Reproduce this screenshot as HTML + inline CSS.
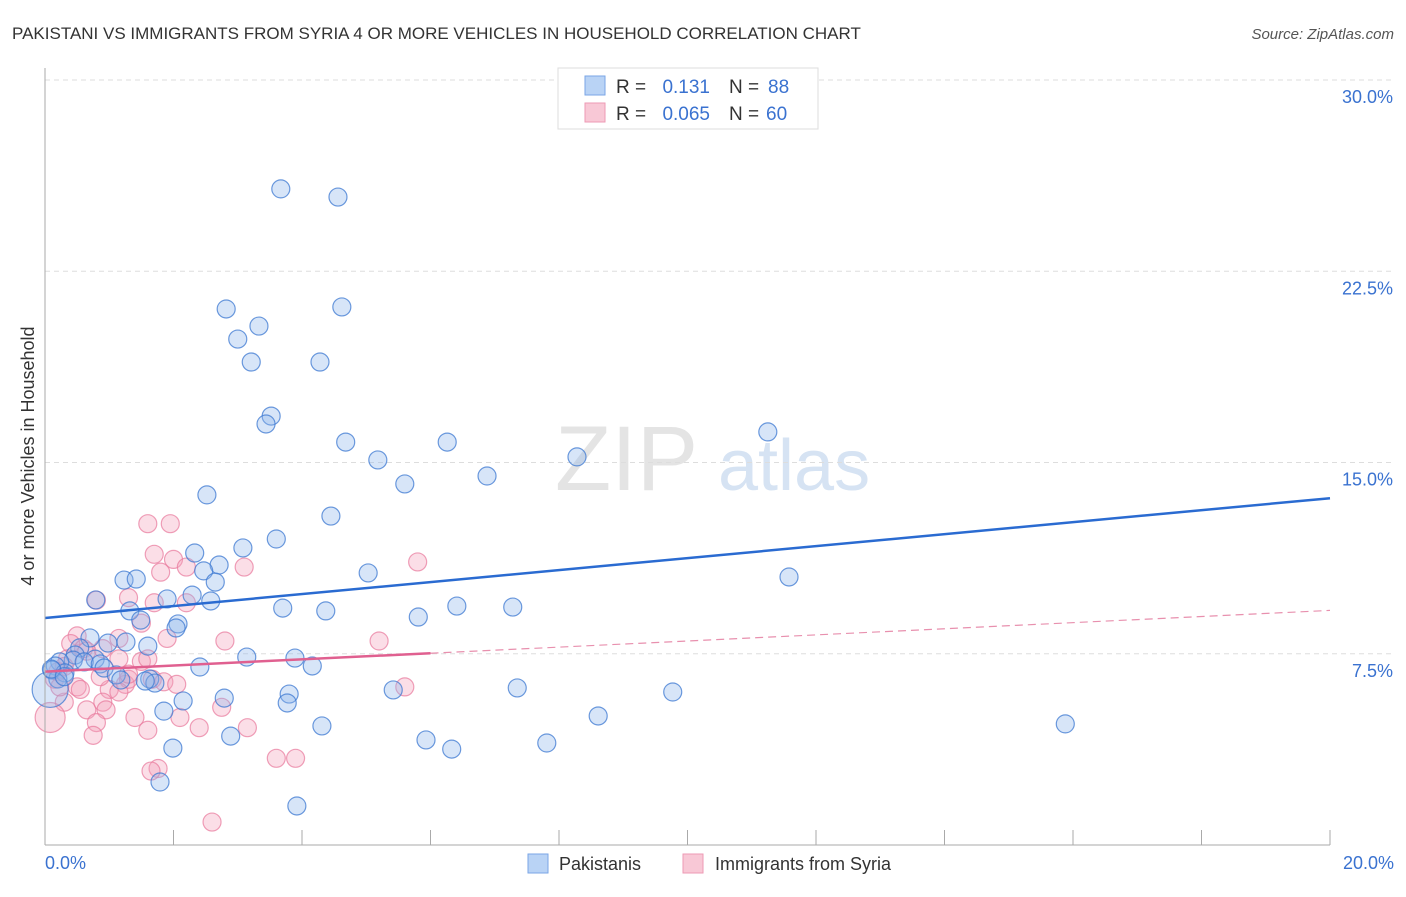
<!DOCTYPE html>
<html><head><meta charset="utf-8"><style>
body{margin:0;background:#fff;font-family:"Liberation Sans",sans-serif;}
svg text{font-family:"Liberation Sans",sans-serif;}
</style></head><body>
<svg id="c" width="1406" height="892" xmlns="http://www.w3.org/2000/svg">
<text x="12" y="39" font-size="17" fill="#333">PAKISTANI VS IMMIGRANTS FROM SYRIA 4 OR MORE VEHICLES IN HOUSEHOLD CORRELATION CHART</text>
<text x="1394" y="39" font-size="15" fill="#555" font-style="italic" text-anchor="end">Source: ZipAtlas.com</text>
<text x="555" y="490" font-size="92" fill="#e4e4e4" font-family="Liberation Serif">ZIP</text>
<text x="718" y="490" font-size="72" fill="#d6e3f3">atlas</text>
<text transform="translate(34,456) rotate(-90)" font-size="18" fill="#333" text-anchor="middle">4 or more Vehicles in Household</text>
<g id="grid"></g><g id="marks"></g><g id="lines"></g>
<line x1="45" y1="68" x2="45" y2="845" stroke="#aaa"/>
<line x1="45" y1="845" x2="1330" y2="845" stroke="#aaa"/>
<text x="45" y="869" font-size="18" fill="#3a72d0">0.0%</text>
<text x="1394" y="869" font-size="18" fill="#3a72d0" text-anchor="end">20.0%</text>
<g>
<rect x="558" y="68" width="260" height="61" fill="#fff" stroke="#ddd"/>
<rect x="585" y="76" width="20" height="19" fill="#b9d3f5" stroke="#7aa6e6"/>
<rect x="585" y="103" width="20" height="19" fill="#f8c8d6" stroke="#ee9ab4"/>
<text x="616" y="93" font-size="19" fill="#333">R = </text><text x="710" y="93" font-size="19" fill="#3a72d0" text-anchor="end">0.131</text>
<text x="729" y="93" font-size="19" fill="#333">N = </text><text x="768" y="93" font-size="19" fill="#3a72d0">88</text>
<text x="616" y="120" font-size="19" fill="#333">R = </text><text x="710" y="120" font-size="19" fill="#3a72d0" text-anchor="end">0.065</text>
<text x="729" y="120" font-size="19" fill="#333">N = </text><text x="766" y="120" font-size="19" fill="#3a72d0">60</text>
</g>
<rect x="528" y="854" width="20" height="19" fill="#b9d3f5" stroke="#7aa6e6"/>
<text x="559" y="870" font-size="18" fill="#333">Pakistanis</text>
<rect x="683" y="854" width="20" height="19" fill="#f8c8d6" stroke="#ee9ab4"/>
<text x="715" y="870" font-size="18" fill="#333">Immigrants from Syria</text>
</svg>
<script>
const yTicks=[7.5,15,22.5,30];
const yTickLabels=["7.5%","15.0%","22.5%","30.0%"];
const xTicks=[0,2,4,6,8,10,12,14,16,18,20];
const bluePts=[[3.67,25.73],[4.56,25.41],[2.82,21.02],[4.62,21.1],[3.33,20.35],[3.0,19.84],[3.21,18.94],[4.28,18.94],[3.52,16.82],[3.44,16.51],[4.68,15.8],[6.26,15.8],[5.18,15.1],[5.6,14.16],[6.88,14.47],[8.28,15.22],[11.25,16.2],[2.52,13.73],[4.45,12.9],[3.6,12.0],[3.08,11.65],[2.33,11.45],[2.71,10.98],[2.47,10.75],[2.65,10.31],[1.23,10.39],[1.42,10.43],[5.03,10.67],[11.58,10.51],[0.79,9.61],[2.29,9.8],[2.58,9.57],[1.9,9.65],[1.32,9.18],[1.49,8.82],[2.07,8.67],[2.04,8.51],[3.7,9.29],[4.37,9.18],[6.41,9.37],[7.28,9.33],[5.81,8.94],[0.7,8.12],[0.98,7.92],[1.26,7.96],[1.6,7.8],[0.54,7.73],[0.47,7.45],[0.78,7.29],[0.44,7.25],[0.61,7.18],[0.86,7.1],[3.14,7.37],[3.89,7.33],[4.16,7.02],[2.41,6.98],[0.92,6.94],[0.23,7.18],[0.16,7.02],[0.11,6.86],[0.31,6.75],[0.2,6.51],[1.11,6.67],[1.18,6.47],[1.63,6.51],[1.71,6.35],[1.56,6.43],[2.79,5.76],[3.8,5.92],[3.77,5.57],[5.42,6.08],[7.35,6.16],[9.77,6.0],[1.85,5.25],[2.15,5.65],[8.61,5.06],[4.31,4.67],[15.88,4.75],[2.89,4.27],[5.93,4.12],[6.33,3.76],[7.81,4.0],[1.99,3.8],[1.79,2.47],[3.92,1.53],[0.08,6.1],[0.1,6.9],[0.3,6.6]];
const pinkPts=[[0.8,9.6],[1.6,12.6],[1.95,12.6],[1.7,11.4],[2.0,11.2],[2.2,10.9],[1.8,10.7],[3.1,10.9],[5.8,11.1],[1.3,9.7],[1.7,9.5],[1.5,8.7],[2.2,9.5],[0.5,8.2],[0.4,7.9],[0.6,7.7],[0.65,7.6],[0.9,7.7],[1.15,8.1],[2.8,8.0],[5.2,8.0],[1.5,7.2],[0.35,7.3],[0.3,7.0],[0.2,6.8],[0.15,6.5],[0.5,6.2],[0.55,6.1],[1.0,6.1],[1.25,6.3],[1.3,6.5],[1.15,6.0],[1.3,6.7],[1.67,6.5],[1.85,6.4],[2.05,6.3],[0.3,5.6],[0.65,5.3],[0.9,5.6],[0.95,5.3],[1.4,5.0],[2.1,5.0],[2.4,4.6],[2.75,5.4],[3.15,4.6],[0.8,4.8],[0.75,4.3],[1.6,4.5],[1.76,3.0],[1.65,2.9],[3.6,3.4],[3.9,3.4],[5.6,6.2],[2.6,0.9],[0.08,5.0],[0.23,6.2],[1.15,7.3],[0.86,6.6],[1.6,7.3],[1.9,8.1]];
const blueFit=[8.9,13.6];
const pinkFit=[6.8,9.2];
</script>
<script>
const NS="http://www.w3.org/2000/svg";
const X0=45,X1=1330,Y0=845,Y30=80;
const xs=v=>X0+(X1-X0)*v/20;
const ys=v=>Y0-(Y0-Y30)*v/30;
function mk(t,a,p){const e=document.createElementNS(NS,t);for(const k in a)e.setAttribute(k,a[k]);p.appendChild(e);return e;}
const g=document.getElementById('grid'),m=document.getElementById('marks'),l=document.getElementById('lines');
yTicks.forEach((t,i)=>{
 const ln=mk('line',{x1:X0,x2:1394,y1:ys(t),y2:ys(t),stroke:'#ddd','stroke-dasharray':'5,4'},g);
 
 
 const tx=mk('text',{x:1393,y:ys(t)+23,'font-size':18,fill:'#3a72d0','text-anchor':'end'},g);
 tx.textContent=yTickLabels[i];
 
 
});
xTicks.forEach(t=>{
 const tk=mk('line',{x1:xs(t),x2:xs(t),y1:830,y2:845,stroke:'#aaa'},g);
 
 
});
pinkPts.forEach((p,i)=>{
 const c=mk('circle',{cx:xs(p[0]),cy:ys(p[1]),r:i==54?15:9,fill:'rgba(244,160,186,0.35)',stroke:'rgba(232,120,155,0.7)','stroke-width':1.2},m);
 
 
});
bluePts.forEach((p,i)=>{
 const c=mk('circle',{cx:xs(p[0]),cy:ys(p[1]),r:i==85?18:9,fill:'rgba(140,180,235,0.35)',stroke:'rgba(60,120,210,0.75)','stroke-width':1.2},m);
 
 
});
const b=mk('line',{x1:xs(0),y1:ys(blueFit[0]),x2:xs(20),y2:ys(blueFit[1]),stroke:'#2a6bd1','stroke-width':2.5},l);


const pm=pinkFit[0]+(pinkFit[1]-pinkFit[0])*0.3;
const p1=mk('line',{x1:xs(0),y1:ys(pinkFit[0]),x2:xs(6),y2:ys(pm),stroke:'#e06090','stroke-width':2.5},l);


const p2=mk('line',{x1:xs(6),y1:ys(pm),x2:xs(20),y2:ys(pinkFit[1]),stroke:'#e890ae','stroke-width':1.2,'stroke-dasharray':'8,5'},l);


</script>
</body></html>
